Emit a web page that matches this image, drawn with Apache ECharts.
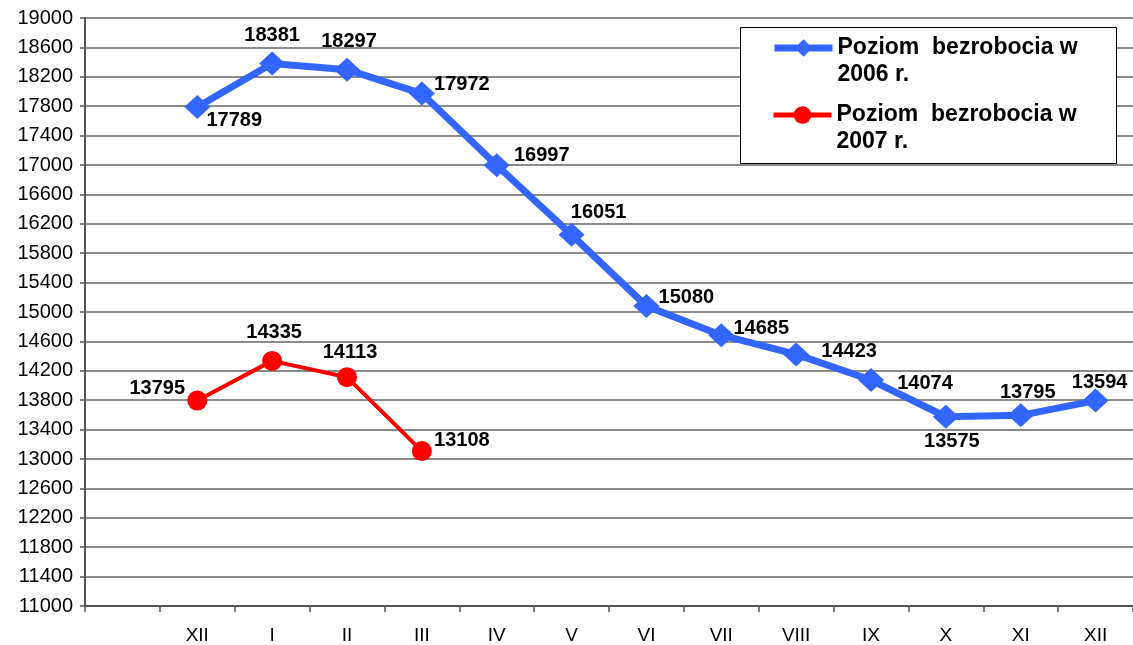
<!DOCTYPE html>
<html>
<head>
<meta charset="utf-8">
<script src="https://cdn.jsdelivr.net/npm/echarts@6/dist/echarts.min.js"></script>
<style>
html,body{margin:0;padding:0;background:#fff;}
#chart{width:1133px;height:645px;}
</style>
</head>
<body>
<div id="chart"></div>
<script>
const categories = ['', 'XII', 'I', 'II', 'III', 'IV', 'V', 'VI', 'VII', 'VIII', 'IX', 'X', 'XI', 'XII'];
const values2006 = [null, 17789, 18381, 18297, 17972, 16997, 16051, 15080, 14685, 14423, 14074, 13575, 13594, 13795];
const labels2006 = ['', '17789', '18381', '18297', '17972', '16997', '16051', '15080', '14685', '14423', '14074', '13575', '13795', '13594'];
const values2007 = [null, 13795, 14335, 14113, 13108];
const labels2007 = ['', '13795', '14335', '14113', '13108'];
const name2006 = 'Poziom  bezrobocia w\n2006 r.';
const name2007 = 'Poziom  bezrobocia w\n2007 r.';

// label placement (style only)
const off2006 = [[0,0],[37,13],[0,-28],[2,-28],[40,-9],[45,-10],[27,-22],[40,-9],[40,-7],[53,-3],[54,3],[6,25],[7,-23],[4,-18]];
const off2007 = [[0,0],[-40,-12],[2,-28],[3,-25],[40,-11]];

const FONT = '"Liberation Sans", Arial, sans-serif';
const labelStyle = {fontFamily: FONT, fontSize: 20, fontWeight: 'bold', color: '#000'};

function buildData(vals, labels, offs) {
  return vals.map((v, i) => v == null ? null : {
    value: v,
    label: Object.assign({show: true, position: 'inside', offset: offs[i], formatter: labels[i]}, labelStyle)
  });
}

const chart = echarts.init(document.getElementById('chart'), null, {renderer: 'canvas'});
const legendCommon = {
  left: 771,
  orient: 'vertical',
  itemWidth: 58,
  padding: 0,
  z: 10,
  formatter: n => '\n' + n,
  textStyle: {fontFamily: FONT, fontSize: 23, fontWeight: 'bold', color: '#000', lineHeight: 27},
  selectedMode: false
};
chart.setOption({
  animation: false,
  backgroundColor: '#fff',
  grid: {left: 85, right: -2, top: 18, bottom: 39, containLabel: false},
  graphic: [{
    type: 'rect', left: 740, top: 27, z: 5,
    shape: {width: 376, height: 136},
    style: {fill: '#fff', stroke: '#000', lineWidth: 1}
  }],
  legend: [
    Object.assign({top: 7.5, data: [name2006], itemHeight: 22, lineStyle: {width: 7}}, legendCommon),
    Object.assign({top: 74.5, data: [name2007], itemHeight: 22, lineStyle: {width: 5}}, legendCommon)
  ],
  xAxis: {
    type: 'category',
    data: categories,
    boundaryGap: true,
    axisLine: {lineStyle: {color: '#555', width: 2}},
    axisTick: {show: true, interval: 0, length: 6, lineStyle: {color: '#555', width: 1.5}},
    axisLabel: {interval: 0, margin: 20, fontFamily: FONT, fontSize: 19, color: '#000'},
    splitLine: {show: false}
  },
  yAxis: {
    type: 'value',
    min: 11000, max: 19000, interval: 400,
    axisLine: {show: true, lineStyle: {color: '#555', width: 2}},
    axisTick: {show: true, length: 5, lineStyle: {color: '#555', width: 1.5}},
    axisLabel: {margin: 12, fontFamily: FONT, fontSize: 20, color: '#000', formatter: v => String(v)},
    splitLine: {show: true, lineStyle: {color: '#666', width: 1.5}}
  },
  series: [
    {
      name: name2006,
      type: 'line',
      data: buildData(values2006, labels2006, off2006),
      color: '#3366FF',
      lineStyle: {color: '#3366FF', width: 7},
      itemStyle: {color: '#3366FF'},
      symbol: 'diamond',
      symbolSize: [26, 24],
      connectNulls: false,
      z: 3
    },
    {
      name: name2007,
      type: 'line',
      data: buildData(values2007, labels2007, off2007),
      color: '#FF0000',
      lineStyle: {color: '#FF0000', width: 4},
      itemStyle: {color: '#FF0000'},
      symbol: 'circle',
      symbolSize: 20,
      z: 3
    }
  ]
});
</script>
</body>
</html>
